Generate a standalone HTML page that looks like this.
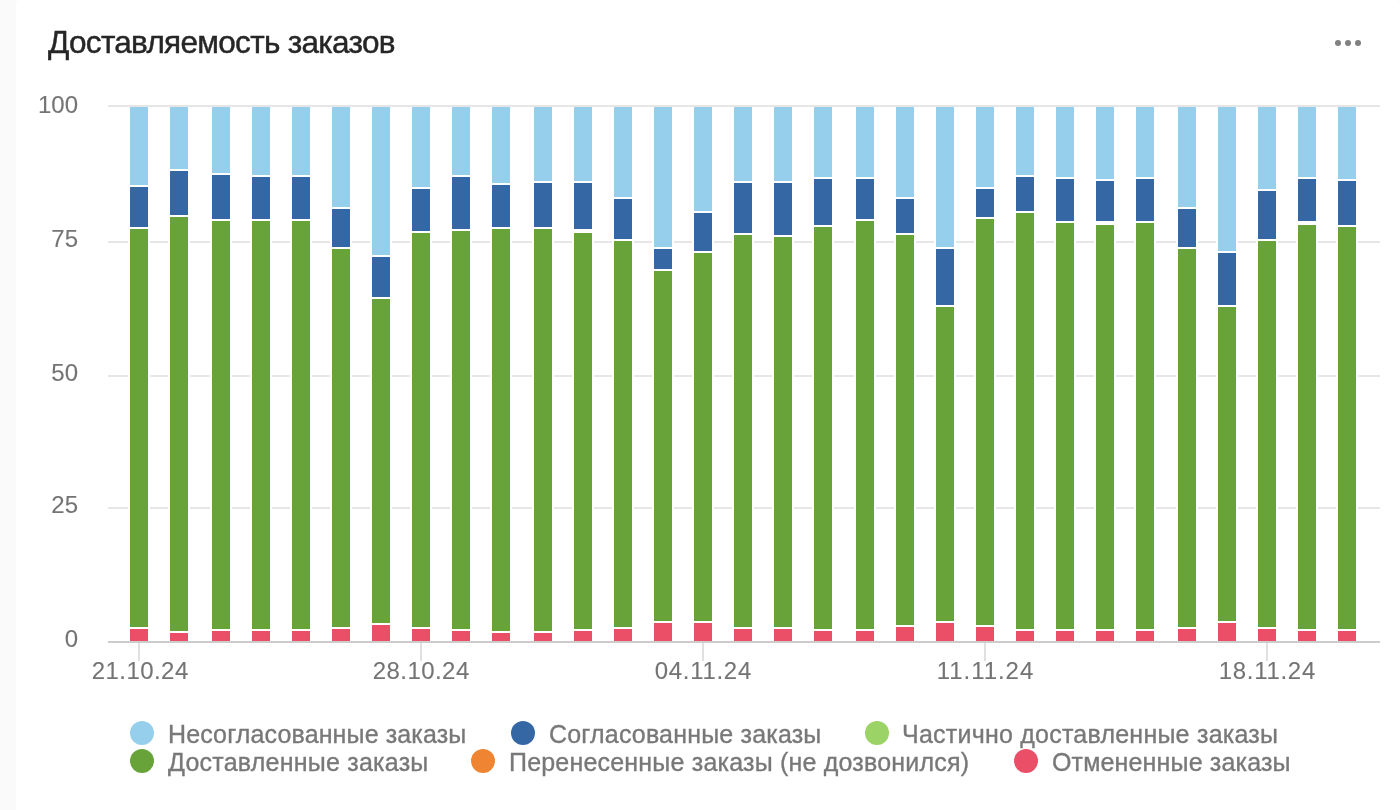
<!DOCTYPE html>
<html lang="ru"><head><meta charset="utf-8"><title>Доставляемость заказов</title>
<style>
html,body{margin:0;padding:0;background:#fafafa;}
body{width:1400px;height:810px;overflow:hidden;position:relative;font-family:"Liberation Sans",sans-serif;}
.card{position:absolute;left:16px;top:0;width:1384px;height:830px;background:#fff;border-radius:4px;}
svg{position:absolute;left:0;top:0;}
text{font-family:"Liberation Sans",sans-serif;}
.ax{font-size:24px;fill:#747474;stroke:#787878;stroke-width:0.1px;}
.lg{font-size:25px;fill:#787878;stroke:#787878;stroke-width:0.35px;}
.ttl{font-size:31.5px;fill:#262626;}
</style></head><body>
<div class="card"></div>
<svg width="1400" height="810" viewBox="0 0 1400 810">

<text class="ttl" x="48" y="53" textLength="347.5" lengthAdjust="spacing" stroke="#262626" stroke-width="0.45">Доставляемость заказов</text>
<circle cx="1338" cy="43" r="3" fill="#808080"/>
<circle cx="1348" cy="43" r="3" fill="#808080"/>
<circle cx="1358" cy="43" r="3" fill="#808080"/>
<g shape-rendering="crispEdges">
<rect x="108" y="105" width="1272" height="2" fill="#e6e6e6"/>
<rect x="108" y="241" width="1272" height="2" fill="#e6e6e6"/>
<rect x="108" y="375" width="1272" height="2" fill="#e6e6e6"/>
<rect x="108" y="507" width="1272" height="2" fill="#e6e6e6"/>
<rect x="138" y="643" width="2" height="18" fill="#e0e0e0"/>
<rect x="420" y="643" width="2" height="18" fill="#e0e0e0"/>
<rect x="702" y="643" width="2" height="18" fill="#e0e0e0"/>
<rect x="984" y="643" width="2" height="18" fill="#e0e0e0"/>
<rect x="1266" y="643" width="2" height="18" fill="#e0e0e0"/>
<rect x="128" y="107" width="22" height="534" fill="#fff"/>
<rect x="130" y="107" width="18" height="78" fill="#96cfeb"/>
<rect x="130" y="187" width="18" height="40" fill="#3567a4"/>
<rect x="130" y="229" width="18" height="398" fill="#68a33a"/>
<rect x="130" y="629" width="18" height="12" fill="#eb4f67"/>
<rect x="168" y="107" width="22" height="534" fill="#fff"/>
<rect x="170" y="107" width="18" height="62" fill="#96cfeb"/>
<rect x="170" y="171" width="18" height="44" fill="#3567a4"/>
<rect x="170" y="217" width="18" height="414" fill="#68a33a"/>
<rect x="170" y="633" width="18" height="8" fill="#eb4f67"/>
<rect x="210" y="107" width="22" height="534" fill="#fff"/>
<rect x="212" y="107" width="18" height="66" fill="#96cfeb"/>
<rect x="212" y="175" width="18" height="44" fill="#3567a4"/>
<rect x="212" y="221" width="18" height="408" fill="#68a33a"/>
<rect x="212" y="631" width="18" height="10" fill="#eb4f67"/>
<rect x="250" y="107" width="22" height="534" fill="#fff"/>
<rect x="252" y="107" width="18" height="68" fill="#96cfeb"/>
<rect x="252" y="177" width="18" height="42" fill="#3567a4"/>
<rect x="252" y="221" width="18" height="408" fill="#68a33a"/>
<rect x="252" y="631" width="18" height="10" fill="#eb4f67"/>
<rect x="290" y="107" width="22" height="534" fill="#fff"/>
<rect x="292" y="107" width="18" height="68" fill="#96cfeb"/>
<rect x="292" y="177" width="18" height="42" fill="#3567a4"/>
<rect x="292" y="221" width="18" height="408" fill="#68a33a"/>
<rect x="292" y="631" width="18" height="10" fill="#eb4f67"/>
<rect x="330" y="107" width="22" height="534" fill="#fff"/>
<rect x="332" y="107" width="18" height="100" fill="#96cfeb"/>
<rect x="332" y="209" width="18" height="38" fill="#3567a4"/>
<rect x="332" y="249" width="18" height="378" fill="#68a33a"/>
<rect x="332" y="629" width="18" height="12" fill="#eb4f67"/>
<rect x="370" y="107" width="22" height="534" fill="#fff"/>
<rect x="372" y="107" width="18" height="148" fill="#96cfeb"/>
<rect x="372" y="257" width="18" height="40" fill="#3567a4"/>
<rect x="372" y="299" width="18" height="324" fill="#68a33a"/>
<rect x="372" y="625" width="18" height="16" fill="#eb4f67"/>
<rect x="410" y="107" width="22" height="534" fill="#fff"/>
<rect x="412" y="107" width="18" height="80" fill="#96cfeb"/>
<rect x="412" y="189" width="18" height="42" fill="#3567a4"/>
<rect x="412" y="233" width="18" height="394" fill="#68a33a"/>
<rect x="412" y="629" width="18" height="12" fill="#eb4f67"/>
<rect x="450" y="107" width="22" height="534" fill="#fff"/>
<rect x="452" y="107" width="18" height="68" fill="#96cfeb"/>
<rect x="452" y="177" width="18" height="52" fill="#3567a4"/>
<rect x="452" y="231" width="18" height="398" fill="#68a33a"/>
<rect x="452" y="631" width="18" height="10" fill="#eb4f67"/>
<rect x="490" y="107" width="22" height="534" fill="#fff"/>
<rect x="492" y="107" width="18" height="76" fill="#96cfeb"/>
<rect x="492" y="185" width="18" height="42" fill="#3567a4"/>
<rect x="492" y="229" width="18" height="402" fill="#68a33a"/>
<rect x="492" y="633" width="18" height="8" fill="#eb4f67"/>
<rect x="532" y="107" width="22" height="534" fill="#fff"/>
<rect x="534" y="107" width="18" height="74" fill="#96cfeb"/>
<rect x="534" y="183" width="18" height="44" fill="#3567a4"/>
<rect x="534" y="229" width="18" height="402" fill="#68a33a"/>
<rect x="534" y="633" width="18" height="8" fill="#eb4f67"/>
<rect x="572" y="107" width="22" height="534" fill="#fff"/>
<rect x="574" y="107" width="18" height="74" fill="#96cfeb"/>
<rect x="574" y="183" width="18" height="46" fill="#3567a4"/>
<rect x="574" y="233" width="18" height="396" fill="#68a33a"/>
<rect x="574" y="631" width="18" height="10" fill="#eb4f67"/>
<rect x="612" y="107" width="22" height="534" fill="#fff"/>
<rect x="614" y="107" width="18" height="90" fill="#96cfeb"/>
<rect x="614" y="199" width="18" height="40" fill="#3567a4"/>
<rect x="614" y="241" width="18" height="386" fill="#68a33a"/>
<rect x="614" y="629" width="18" height="12" fill="#eb4f67"/>
<rect x="652" y="107" width="22" height="534" fill="#fff"/>
<rect x="654" y="107" width="18" height="140" fill="#96cfeb"/>
<rect x="654" y="249" width="18" height="20" fill="#3567a4"/>
<rect x="654" y="271" width="18" height="350" fill="#68a33a"/>
<rect x="654" y="623" width="18" height="18" fill="#eb4f67"/>
<rect x="692" y="107" width="22" height="534" fill="#fff"/>
<rect x="694" y="107" width="18" height="104" fill="#96cfeb"/>
<rect x="694" y="213" width="18" height="38" fill="#3567a4"/>
<rect x="694" y="253" width="18" height="368" fill="#68a33a"/>
<rect x="694" y="623" width="18" height="18" fill="#eb4f67"/>
<rect x="732" y="107" width="22" height="534" fill="#fff"/>
<rect x="734" y="107" width="18" height="74" fill="#96cfeb"/>
<rect x="734" y="183" width="18" height="50" fill="#3567a4"/>
<rect x="734" y="235" width="18" height="392" fill="#68a33a"/>
<rect x="734" y="629" width="18" height="12" fill="#eb4f67"/>
<rect x="772" y="107" width="22" height="534" fill="#fff"/>
<rect x="774" y="107" width="18" height="74" fill="#96cfeb"/>
<rect x="774" y="183" width="18" height="52" fill="#3567a4"/>
<rect x="774" y="237" width="18" height="390" fill="#68a33a"/>
<rect x="774" y="629" width="18" height="12" fill="#eb4f67"/>
<rect x="812" y="107" width="22" height="534" fill="#fff"/>
<rect x="814" y="107" width="18" height="70" fill="#96cfeb"/>
<rect x="814" y="179" width="18" height="46" fill="#3567a4"/>
<rect x="814" y="227" width="18" height="402" fill="#68a33a"/>
<rect x="814" y="631" width="18" height="10" fill="#eb4f67"/>
<rect x="854" y="107" width="22" height="534" fill="#fff"/>
<rect x="856" y="107" width="18" height="70" fill="#96cfeb"/>
<rect x="856" y="179" width="18" height="40" fill="#3567a4"/>
<rect x="856" y="221" width="18" height="408" fill="#68a33a"/>
<rect x="856" y="631" width="18" height="10" fill="#eb4f67"/>
<rect x="894" y="107" width="22" height="534" fill="#fff"/>
<rect x="896" y="107" width="18" height="90" fill="#96cfeb"/>
<rect x="896" y="199" width="18" height="34" fill="#3567a4"/>
<rect x="896" y="235" width="18" height="390" fill="#68a33a"/>
<rect x="896" y="627" width="18" height="14" fill="#eb4f67"/>
<rect x="934" y="107" width="22" height="534" fill="#fff"/>
<rect x="936" y="107" width="18" height="140" fill="#96cfeb"/>
<rect x="936" y="249" width="18" height="56" fill="#3567a4"/>
<rect x="936" y="307" width="18" height="314" fill="#68a33a"/>
<rect x="936" y="623" width="18" height="18" fill="#eb4f67"/>
<rect x="974" y="107" width="22" height="534" fill="#fff"/>
<rect x="976" y="107" width="18" height="80" fill="#96cfeb"/>
<rect x="976" y="189" width="18" height="28" fill="#3567a4"/>
<rect x="976" y="219" width="18" height="406" fill="#68a33a"/>
<rect x="976" y="627" width="18" height="14" fill="#eb4f67"/>
<rect x="1014" y="107" width="22" height="534" fill="#fff"/>
<rect x="1016" y="107" width="18" height="68" fill="#96cfeb"/>
<rect x="1016" y="177" width="18" height="34" fill="#3567a4"/>
<rect x="1016" y="213" width="18" height="416" fill="#68a33a"/>
<rect x="1016" y="631" width="18" height="10" fill="#eb4f67"/>
<rect x="1054" y="107" width="22" height="534" fill="#fff"/>
<rect x="1056" y="107" width="18" height="70" fill="#96cfeb"/>
<rect x="1056" y="179" width="18" height="42" fill="#3567a4"/>
<rect x="1056" y="223" width="18" height="406" fill="#68a33a"/>
<rect x="1056" y="631" width="18" height="10" fill="#eb4f67"/>
<rect x="1094" y="107" width="22" height="534" fill="#fff"/>
<rect x="1096" y="107" width="18" height="72" fill="#96cfeb"/>
<rect x="1096" y="181" width="18" height="40" fill="#3567a4"/>
<rect x="1096" y="225" width="18" height="404" fill="#68a33a"/>
<rect x="1096" y="631" width="18" height="10" fill="#eb4f67"/>
<rect x="1134" y="107" width="22" height="534" fill="#fff"/>
<rect x="1136" y="107" width="18" height="70" fill="#96cfeb"/>
<rect x="1136" y="179" width="18" height="42" fill="#3567a4"/>
<rect x="1136" y="223" width="18" height="406" fill="#68a33a"/>
<rect x="1136" y="631" width="18" height="10" fill="#eb4f67"/>
<rect x="1176" y="107" width="22" height="534" fill="#fff"/>
<rect x="1178" y="107" width="18" height="100" fill="#96cfeb"/>
<rect x="1178" y="209" width="18" height="38" fill="#3567a4"/>
<rect x="1178" y="249" width="18" height="378" fill="#68a33a"/>
<rect x="1178" y="629" width="18" height="12" fill="#eb4f67"/>
<rect x="1216" y="107" width="22" height="534" fill="#fff"/>
<rect x="1218" y="107" width="18" height="144" fill="#96cfeb"/>
<rect x="1218" y="253" width="18" height="52" fill="#3567a4"/>
<rect x="1218" y="307" width="18" height="314" fill="#68a33a"/>
<rect x="1218" y="623" width="18" height="18" fill="#eb4f67"/>
<rect x="1256" y="107" width="22" height="534" fill="#fff"/>
<rect x="1258" y="107" width="18" height="82" fill="#96cfeb"/>
<rect x="1258" y="191" width="18" height="48" fill="#3567a4"/>
<rect x="1258" y="241" width="18" height="386" fill="#68a33a"/>
<rect x="1258" y="629" width="18" height="12" fill="#eb4f67"/>
<rect x="1296" y="107" width="22" height="534" fill="#fff"/>
<rect x="1298" y="107" width="18" height="70" fill="#96cfeb"/>
<rect x="1298" y="179" width="18" height="42" fill="#3567a4"/>
<rect x="1298" y="225" width="18" height="404" fill="#68a33a"/>
<rect x="1298" y="631" width="18" height="10" fill="#eb4f67"/>
<rect x="1336" y="107" width="22" height="534" fill="#fff"/>
<rect x="1338" y="107" width="18" height="72" fill="#96cfeb"/>
<rect x="1338" y="181" width="18" height="44" fill="#3567a4"/>
<rect x="1338" y="227" width="18" height="402" fill="#68a33a"/>
<rect x="1338" y="631" width="18" height="10" fill="#eb4f67"/>
<rect x="108" y="641" width="1272" height="2" fill="#cccccc"/>
</g>
<text class="ax" x="78" y="113" text-anchor="end">100</text>
<text class="ax" x="78" y="247" text-anchor="end">75</text>
<text class="ax" x="78" y="381" text-anchor="end">50</text>
<text class="ax" x="78" y="513" text-anchor="end">25</text>
<text class="ax" x="78" y="647" text-anchor="end">0</text>
<text class="ax" x="140" y="679" text-anchor="middle" textLength="96.5" lengthAdjust="spacing">21.10.24</text>
<text class="ax" x="421" y="679" text-anchor="middle" textLength="96.5" lengthAdjust="spacing">28.10.24</text>
<text class="ax" x="703" y="679" text-anchor="middle" textLength="96.5" lengthAdjust="spacing">04.11.24</text>
<text class="ax" x="985" y="679" text-anchor="middle" textLength="96.5" lengthAdjust="spacing">11.11.24</text>
<text class="ax" x="1267" y="679" text-anchor="middle" textLength="96.5" lengthAdjust="spacing">18.11.24</text>
<circle cx="142" cy="733" r="12" fill="#96cfeb"/>
<text class="lg" x="168.0" y="743" textLength="298.3" lengthAdjust="spacing">Несогласованные заказы</text>
<circle cx="523" cy="733" r="12" fill="#3567a4"/>
<text class="lg" x="549.0" y="743" textLength="272.3" lengthAdjust="spacing">Согласованные заказы</text>
<circle cx="877" cy="733" r="12" fill="#9bd366"/>
<text class="lg" x="902.0" y="743" textLength="376.0" lengthAdjust="spacing">Частично доставленные заказы</text>
<circle cx="142" cy="761" r="12" fill="#68a33a"/>
<text class="lg" x="168.0" y="771" textLength="260.3" lengthAdjust="spacing">Доставленные заказы</text>
<circle cx="483" cy="761" r="12" fill="#ef8532"/>
<text class="lg" x="509.0" y="771" textLength="460.0" lengthAdjust="spacing">Перенесенные заказы (не дозвонился)</text>
<circle cx="1026" cy="761" r="12" fill="#eb4f67"/>
<text class="lg" x="1052.0" y="771" textLength="238.5" lengthAdjust="spacing">Отмененные заказы</text>
</svg></body></html>
